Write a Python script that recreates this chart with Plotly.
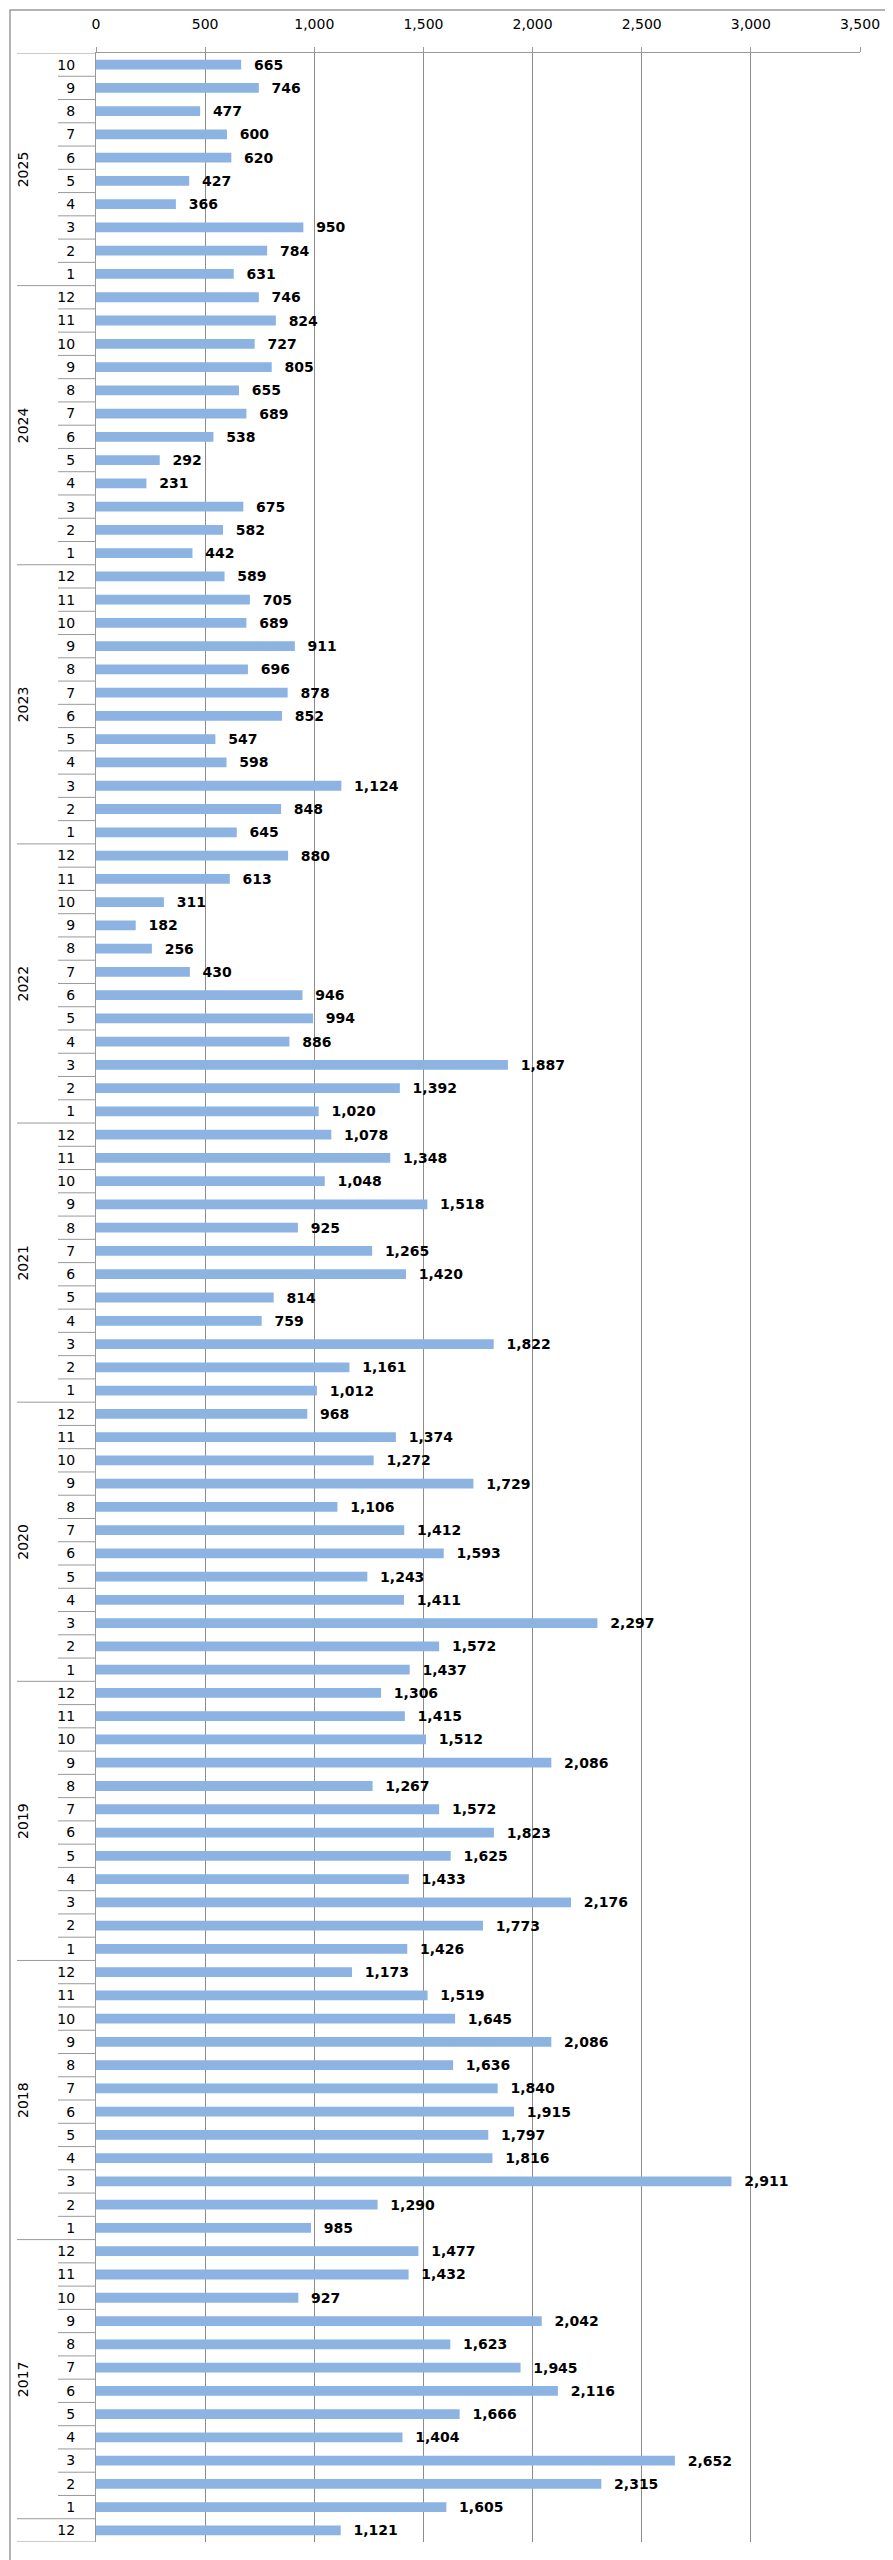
import plotly.graph_objects as go

# ---- data (top to bottom as in the chart) ----
years = ["2025", "2024", "2023", "2022", "2021", "2020", "2019", "2018", "2017", ""]
months = [
    [10, 9, 8, 7, 6, 5, 4, 3, 2, 1],
    [12, 11, 10, 9, 8, 7, 6, 5, 4, 3, 2, 1],
    [12, 11, 10, 9, 8, 7, 6, 5, 4, 3, 2, 1],
    [12, 11, 10, 9, 8, 7, 6, 5, 4, 3, 2, 1],
    [12, 11, 10, 9, 8, 7, 6, 5, 4, 3, 2, 1],
    [12, 11, 10, 9, 8, 7, 6, 5, 4, 3, 2, 1],
    [12, 11, 10, 9, 8, 7, 6, 5, 4, 3, 2, 1],
    [12, 11, 10, 9, 8, 7, 6, 5, 4, 3, 2, 1],
    [12, 11, 10, 9, 8, 7, 6, 5, 4, 3, 2, 1],
    [12],
]
v2025 = [665, 746, 477, 600, 620, 427, 366, 950, 784, 631]
v2024 = [746, 824, 727, 805, 655, 689, 538, 292, 231, 675, 582, 442]
v2023 = [589, 705, 689, 911, 696, 878, 852, 547, 598, 1124, 848, 645]
v2022 = [880, 613, 311, 182, 256, 430, 946, 994, 886, 1887, 1392, 1020]
v2021 = [1078, 1348, 1048, 1518, 925, 1265, 1420, 814, 759, 1822, 1161, 1012]
v2020 = [968, 1374, 1272, 1729, 1106, 1412, 1593, 1243, 1411, 2297, 1572, 1437]
v2019 = [1306, 1415, 1512, 2086, 1267, 1572, 1823, 1625, 1433, 2176, 1773, 1426]
v2018 = [1173, 1519, 1645, 2086, 1636, 1840, 1915, 1797, 1816, 2911, 1290, 985]
v2017 = [1477, 1432, 927, 2042, 1623, 1945, 2116, 1666, 1404, 2652, 2315, 1605]
v2016 = [1121]
values_by_year = [v2025, v2024, v2023, v2022, v2021, v2020, v2019, v2018, v2017, v2016]
x_ticks = [0, 500, 1000, 1500, 2000, 2500, 3000, 3500]

# ---- build rows ----
vals, labels, ypos, year_bounds = [], [], [], []
idx = 0
for ms, vs in zip(months, values_by_year):
    start = idx
    for m, v in zip(ms, vs):
        vals.append(v)
        labels.append(str(m))
        ypos.append(idx)
        idx += 1
    year_bounds.append((start, idx - 1))
n = idx

W, H = 893, 2560
ML, MR, MT, MB = 88, 41, 45, 26
PW = W - ML - MR
PH = H - MT - MB

def px_to_paper_x(px):
    return (px - ML) / PW

def px_to_paper_y(py):
    return (H - MB - py) / PH

FONT = "DejaVu Sans"
LINE = "#9a9a9a"

fig = go.Figure()
fig.add_trace(go.Bar(
    x=vals, y=ypos, orientation="h",
    marker=dict(color="#8db3e2", line=dict(width=0)),
    text=["\u00a0\u00a0" + f"{v:,}" for v in vals],
    textposition="outside",
    constraintext="none",
    textfont=dict(family=FONT, size=14, color="#000000", weight="bold"),
    cliponaxis=False,
    width=0.42,
    hoverinfo="skip",
))

shapes = []
# row separators in the label area
year_ends = {b[1] for b in year_bounds}
for i in range(-1, n):
    long_line = (i == -1) or (i in year_ends)
    shapes.append(dict(
        type="line", xref="paper", yref="y",
        x0=px_to_paper_x(9 if long_line else 50), x1=0,
        y0=i + 0.5, y1=i + 0.5,
        line=dict(color=LINE, width=1),
    ))
# outer border
shapes.append(dict(
    type="rect", xref="paper", yref="paper",
    x0=px_to_paper_x(2), x1=px_to_paper_x(889),
    y0=px_to_paper_y(2557), y1=px_to_paper_y(2),
    line=dict(color="#9a9a9a", width=1.5), fillcolor="rgba(0,0,0,0)", layer="below",
))

annotations = []
for yl, (a, b) in zip(years, year_bounds):
    if not yl:
        continue
    annotations.append(dict(
        text=yl, xref="paper", yref="y",
        x=px_to_paper_x(15), y=(a + b) / 2,
        textangle=-90, showarrow=False,
        font=dict(family=FONT, size=14, color="#000000"),
        xanchor="center", yanchor="middle",
    ))

fig.update_layout(
    width=W, height=H,
    margin=dict(l=ML, r=MR, t=MT, b=MB, autoexpand=False),
    paper_bgcolor="white", plot_bgcolor="white",
    showlegend=False,
    bargap=0.58,
    shapes=shapes,
    annotations=annotations,
    font=dict(family=FONT, size=14, color="#000000"),
)
fig.update_xaxes(
    side="top", range=[0, 3500], tickvals=x_ticks,
    ticktext=[f"{t:,}" for t in x_ticks],
    showgrid=True, gridcolor="#8c8c8c", gridwidth=1,
    zeroline=False,
    showline=True, linecolor=LINE, linewidth=1,
    ticks="outside", ticklen=5, tickcolor=LINE,
    ticklabelstandoff=12,
    tickfont=dict(family=FONT, size=14, color="#000000"),
    automargin=False,
    fixedrange=True,
)
fig.update_yaxes(
    range=[n - 0.5, -0.5],
    tickvals=ypos, ticktext=labels,
    showgrid=False, zeroline=False,
    showline=True, linecolor=LINE, linewidth=1,
    ticks="", ticklabelstandoff=17,
    tickfont=dict(family=FONT, size=14, color="#000000"),
    automargin=False,
    fixedrange=True,
)

fig.write_html("out.html")
